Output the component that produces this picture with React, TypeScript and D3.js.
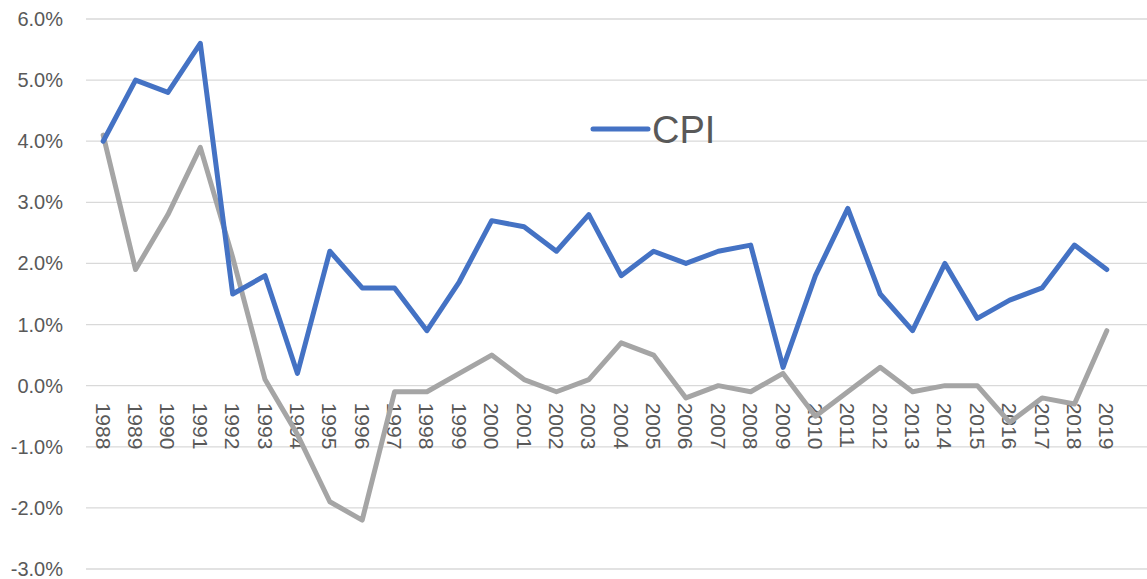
import React from "react";
import * as d3 from "d3";

const years = d3.range(1988, 2020).map(String);

// blue line (legend: CPI)
const cpi = [
  4.0, 5.0, 4.8, 5.6, 1.5, 1.8, 0.2, 2.2, 1.6, 1.6, 0.9, 1.7, 2.7, 2.6, 2.2, 2.8,
  1.8, 2.2, 2.0, 2.2, 2.3, 0.3, 1.8, 2.9, 1.5, 0.9, 2.0, 1.1, 1.4, 1.6, 2.3, 1.9,
];

// grey line, no legend entry
const other = [
  4.1, 1.9, 2.8, 3.9, 2.1, 0.1, -0.8, -1.9, -2.2, -0.1, -0.1, 0.2, 0.5, 0.1, -0.1, 0.1,
  0.7, 0.5, -0.2, 0.0, -0.1, 0.2, -0.5, -0.1, 0.3, -0.1, 0.0, 0.0, -0.6, -0.2, -0.3, 0.9,
];

const yTicks = [-3, -2, -1, 0, 1, 2, 3, 4, 5, 6];

const W = 1147;
const H = 579;
const FONT = "'Liberation Sans', Arial, sans-serif";
const TXT = "#595959";

export default function App() {
  const x = d3.scaleBand<string>().domain(years).range([87, 1123]);
  const y = d3.scaleLinear().domain([-3, 6]).range([569, 19]);
  const cx = (d: string) => (x(d) ?? 0) + x.bandwidth() / 2;
  const fmt = (t: number) => t.toFixed(1) + "%";

  const line = d3
    .line<number>()
    .x((_, i) => cx(years[i]))
    .y((d) => y(d));

  return (
    <svg
      width={W}
      height={H}
      style={{ position: "absolute", left: 0, top: 0, background: "#fff" }}
    >
      <g>
        {yTicks.map((t) => (
          <g key={t}>
            <line x1={86} x2={W} y1={y(t)} y2={y(t)} stroke="#d9d9d9" strokeWidth={1.3} />
            <text
              x={63}
              y={y(t)}
              dy="0.35em"
              textAnchor="end"
              fontFamily={FONT}
              fontSize={20}
              fill={TXT}
            >
              {fmt(t)}
            </text>
          </g>
        ))}
      </g>

      <g>
        {years.map((yr) => (
          <text
            key={yr}
            transform={`translate(${cx(yr)},${y(0) + 17}) rotate(90)`}
            dy="0.36em"
            textAnchor="start"
            fontFamily={FONT}
            fontSize={21}
            fill={TXT}
          >
            {yr}
          </text>
        ))}
      </g>

      <path
        d={line(other) ?? ""}
        fill="none"
        stroke="#a5a5a5"
        strokeWidth={5}
        strokeLinejoin="round"
        strokeLinecap="round"
      />
      <path
        d={line(cpi) ?? ""}
        fill="none"
        stroke="#4472c4"
        strokeWidth={5}
        strokeLinejoin="round"
        strokeLinecap="round"
      />

      <g>
        <line
          x1={593}
          x2={648}
          y1={129}
          y2={129}
          stroke="#4472c4"
          strokeWidth={5}
          strokeLinecap="round"
        />
        <text x={652} y={143} fontFamily={FONT} fontSize={38} fill={TXT}>
          CPI
        </text>
      </g>
    </svg>
  );
}
